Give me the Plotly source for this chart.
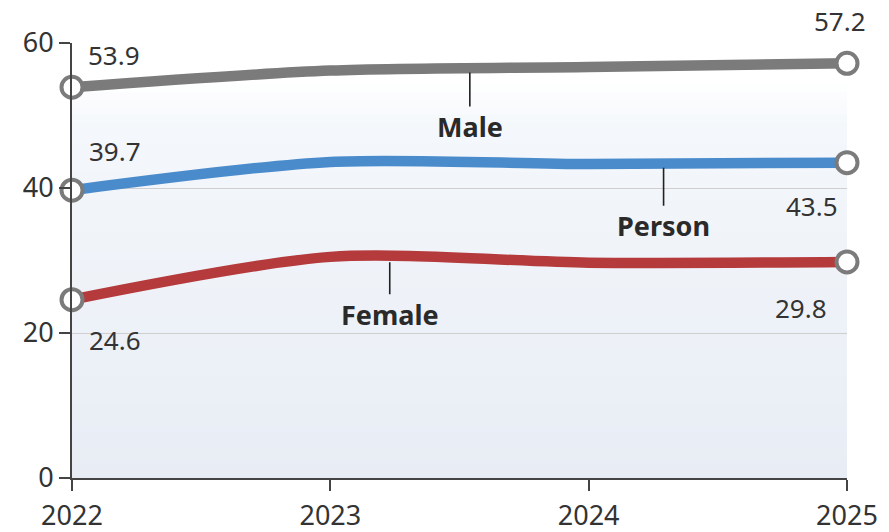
import plotly.graph_objects as go

years = [2022, 2023, 2024, 2025]
male = [53.9, 56.2, 56.7, 57.2]
person = [39.7, 43.6, 43.3, 43.5]
female = [24.6, 30.5, 29.7, 29.8]
y_ticks = [0, 20, 40, 60]

series = [
    ("Male", male, "#7b7b7b"),
    ("Person", person, "#4a8bcc"),
    ("Female", female, "#b53a3c"),
]

FONT = "Noto Sans"
TXT = "#333333"

fig = go.Figure()

for name, vals, col in series:
    fig.add_trace(go.Scatter(
        x=years, y=vals, mode="lines", name=name,
        line=dict(color=col, width=10.5, shape="spline", smoothing=0.8),
        hoverinfo="skip", cliponaxis=False,
    ))

for name, vals, col in series:
    fig.add_trace(go.Scatter(
        x=[years[0], years[-1]], y=[vals[0], vals[-1]], mode="markers",
        marker=dict(size=21, color="white", line=dict(color="#7b7b7b", width=4)),
        hoverinfo="skip", cliponaxis=False, showlegend=False,
    ))

# background gradient (white at top -> light blue at bottom)
def hex_mix(c1, c2, t):
    a = [int(c1[i:i + 2], 16) for i in (1, 3, 5)]
    b = [int(c2[i:i + 2], 16) for i in (1, 3, 5)]
    return "#" + "".join(f"{round(a[k] + (b[k] - a[k]) * t):02x}" for k in range(3))

def bg_color(d):
    # d: domain position (1 = top, 0 = bottom)
    if d >= 0.91:
        return "#ffffff"
    if d >= 0.80:
        return hex_mix("#ffffff", "#f4f7fb", (0.91 - d) / 0.11)
    return hex_mix("#f4f7fb", "#e8edf5", (0.80 - d) / 0.80)

shapes = []
N = 60
for i in range(N):
    y1 = 1 - i / N
    y0 = 1 - (i + 1) / N
    shapes.append(dict(type="rect", xref="x domain", yref="y domain", x0=0, x1=1,
                       y0=y0, y1=min(1, y1 + 0.003),
                       fillcolor=bg_color((y0 + y1) / 2),
                       line=dict(width=0), layer="below"))

annotations = []
def val_label(x, y, text, xanchor, yshift, xshift):
    annotations.append(dict(x=x, y=y, text=text, showarrow=False, xanchor=xanchor,
                            yanchor="middle", xshift=xshift, yshift=yshift,
                            font=dict(family=FONT, size=26, color=TXT)))

val_label(years[0], male[0], f"{male[0]}", "left", 32, 14)
val_label(years[0], person[0], f"{person[0]}", "left", 39, 15)
val_label(years[0], female[0], f"{female[0]}", "left", -40, 15)
val_label(years[-1], male[-1], f"{male[-1]}", "center", 42, -7)
val_label(years[-1], person[-1], f"{person[-1]}", "right", -43, -7)
val_label(years[-1], female[-1], f"{female[-1]}", "right", -46, -18)

# series labels with leader lines
label_x = {"Male": 2023.54, "Person": 2024.29, "Female": 2023.23}
label_off = {"Male": 58, "Person": 62, "Female": 56}
for name, vals, col in series:
    lx = label_x[name]
    i = int(lx - years[0])
    t = lx - years[i]
    ly = vals[i] + (vals[i + 1] - vals[i]) * t
    annotations.append(dict(x=lx, y=ly, text=f"<b>{name}</b>", showarrow=True,
                            arrowhead=0, arrowwidth=1.6, arrowcolor="#222222",
                            ax=0, ay=label_off[name], standoff=4,
                            font=dict(family=FONT, size=27, color="#2a2a2a")))

fig.update_layout(
    width=889, height=532,
    margin=dict(l=72, r=42, t=43, b=54, autoexpand=False),
    paper_bgcolor="white", plot_bgcolor="rgba(0,0,0,0)",
    showlegend=False,
    shapes=shapes, annotations=annotations,
    font=dict(family=FONT, color=TXT, size=26),
    xaxis=dict(range=[2022, 2025], tickvals=years, ticktext=[str(y) for y in years],
               showgrid=False, zeroline=False, showline=True, linecolor="#444444", linewidth=2,
               ticks="outside", ticklen=11, tickwidth=1.5, tickcolor="#444444",
               automargin=False,
               tickfont=dict(family=FONT, size=27, color=TXT), ticklabelstandoff=2),
    yaxis=dict(range=[0, 60], tickvals=y_ticks, showgrid=True, gridcolor="#cfcfcf", gridwidth=1,
               zeroline=False, showline=True, linecolor="#444444", linewidth=2,
               ticks="outside", ticklen=11, tickwidth=1.5, tickcolor="#444444",
               automargin=False,
               tickfont=dict(family=FONT, size=27, color=TXT)),
)

fig.write_html("out.html")
